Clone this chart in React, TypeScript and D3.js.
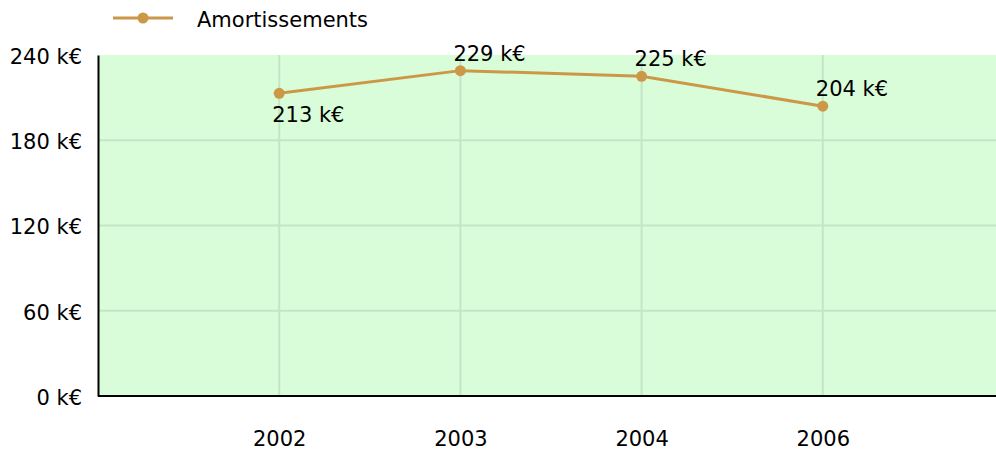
import React, { useEffect, useRef } from 'react';
import { select, scaleLinear, scalePoint, line, axisLeft, axisBottom } from 'd3';

const years = ['2002', '2003', '2004', '2006'];
const amortissements = [213, 229, 225, 204];
const yTicks = [0, 60, 120, 180, 240];
const seriesName = 'Amortissements';

const W = 996;
const H = 455;
const FONT = 'DejaVu Sans, sans-serif';
const FS = 21;

export default function App() {
  const svgRef = useRef<SVGSVGElement>(null);

  useEffect(() => {
    const margin = { top: 55, right: 0, bottom: 59, left: 98 };
    const innerW = W - margin.left - margin.right;
    const innerH = H - margin.top - margin.bottom;

    const svg = select(svgRef.current).html(null);

    // the category band runs a little past the right edge of the window
    const x = scalePoint<string>().domain(years).range([0, innerW + 8]).padding(1);
    const y = scaleLinear().domain([0, 240]).range([innerH, 0]);

    const g = svg.append('g').attr('transform', `translate(${margin.left},${margin.top})`);

    g.append('rect').attr('width', innerW).attr('height', innerH).attr('fill', '#d9fdd9');

    // grid
    g.selectAll('.hgrid')
      .data(yTicks.filter((t) => t > 0 && t < 240))
      .join('line')
      .attr('x1', 0)
      .attr('x2', innerW)
      .attr('y1', (d) => y(d))
      .attr('y2', (d) => y(d))
      .attr('stroke', '#c4e6c6')
      .attr('stroke-width', 2);

    g.selectAll('.vgrid')
      .data(years)
      .join('line')
      .attr('x1', (d) => x(d)!)
      .attr('x2', (d) => x(d)!)
      .attr('y1', 0)
      .attr('y2', innerH)
      .attr('stroke', '#c4e6c6')
      .attr('stroke-width', 2);

    // axes
    const ya = g.append('g').call(
      axisLeft(y)
        .tickValues(yTicks)
        .tickSize(0)
        .tickPadding(16)
        .tickFormat((d) => `${d} k€`)
    );
    ya.select('.domain').attr('stroke', '#000').attr('stroke-width', 2);
    ya.selectAll('text').attr('font-family', FONT).attr('font-size', FS).attr('fill', '#000').attr('dy', '0.4em');

    const xa = g
      .append('g')
      .attr('transform', `translate(0,${innerH})`)
      .call(axisBottom(x).tickSize(0).tickPadding(35));
    xa.select('.domain').attr('d', `M0,0H${innerW}`).attr('stroke', '#000').attr('stroke-width', 2);
    xa.selectAll('text').attr('font-family', FONT).attr('font-size', FS).attr('fill', '#000');

    // line
    const pts = years.map((yr, i) => ({ yr, v: amortissements[i] }));
    g.append('path')
      .datum(pts)
      .attr('fill', 'none')
      .attr('stroke', '#cc9848')
      .attr('stroke-width', 3)
      .attr('d', line<{ yr: string; v: number }>().x((d) => x(d.yr)!).y((d) => y(d.v)));

    g.selectAll('.dot')
      .data(pts)
      .join('circle')
      .attr('cx', (d) => x(d.yr)!)
      .attr('cy', (d) => y(d.v))
      .attr('r', 5.5)
      .attr('fill', '#cc9848');

    g.selectAll('.lbl')
      .data(pts)
      .join('text')
      .attr('x', (d) => x(d.yr)! - 7)
      .attr('y', (d, i) => y(d.v) + (i === 0 ? 29 : -10))
      .attr('font-family', FONT)
      .attr('font-size', FS)
      .attr('fill', '#000')
      .text((d) => `${d.v} k€`);

    // legend
    const lg = svg.append('g');
    lg.append('line').attr('x1', 113).attr('x2', 173).attr('y1', 18).attr('y2', 18).attr('stroke', '#cc9848').attr('stroke-width', 3);
    lg.append('circle').attr('cx', 143).attr('cy', 18).attr('r', 5.5).attr('fill', '#cc9848');
    lg.append('text')
      .attr('x', 197)
      .attr('y', 27)
      .attr('font-family', FONT)
      .attr('font-size', FS)
      .attr('fill', '#000')
      .text(seriesName);
  }, []);

  return <svg ref={svgRef} width={W} height={H} style={{ position: 'absolute', left: 0, top: 0 }} />;
}
